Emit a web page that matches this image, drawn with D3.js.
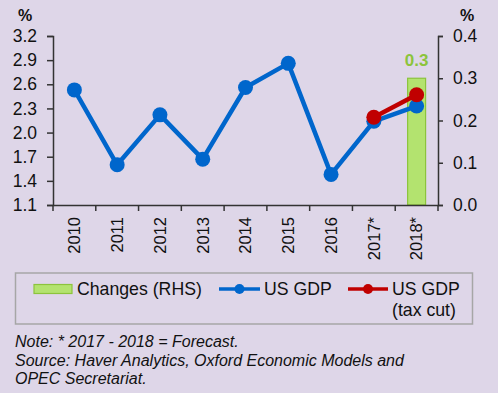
<!DOCTYPE html>
<html>
<head>
<meta charset="utf-8">
<script src="https://cdn.jsdelivr.net/npm/d3@7"></script>
<style>
  body { margin: 0; background: #ded6e8; }
  svg { display: block; font-family: Arial, "Liberation Sans", sans-serif; }
</style>
</head>
<body>
<script>
const width = 498;
const height = 393;

// data
const years = ['2010', '2011', '2012', '2013', '2014', '2015', '2016', '2017*', '2018*'];
const usGdp = [2.53, 1.60, 2.22, 1.67, 2.56, 2.86, 1.48, 2.14, 2.33];
const taxCutYears = ['2017*', '2018*'];
const usGdpTaxCut = [2.19, 2.47];
const changeYears = ['2018*'];
const changes = [0.3];
const leftTicks = [1.1, 1.4, 1.7, 2.0, 2.3, 2.6, 2.9, 3.2];
const rightTicks = [0.0, 0.1, 0.2, 0.3, 0.4];
const notes = ['Note: * 2017 - 2018 = Forecast.', 'Source: Haver Analytics, Oxford Economic Models and', 'OPEC Secretariat.'];

const blue = '#0066cc';
const red = '#c00000';
const green = '#b3e36f';
const greenDark = '#8cc43c';
const axisColor = '#333';

const svg = d3.select('body').append('svg')
  .attr('width', width)
  .attr('height', height);

const x = d3.scaleBand().domain(years).range([53, 438]);
const yL = d3.scaleLinear().domain([1.1, 3.2]).range([205, 36]);
const yR = d3.scaleLinear().domain([0, 0.4]).range([205, 36]);

// bars (RHS)
const barData = changeYears.map((c, i) => ({ c, v: changes[i] }));
const barW = x.bandwidth() * 0.42;
svg.selectAll('rect.bar')
  .data(barData)
  .enter().append('rect')
  .attr('class', 'bar')
  .attr('x', d => x(d.c) + x.bandwidth() / 2 - barW / 2)
  .attr('y', d => yR(d.v))
  .attr('width', barW)
  .attr('height', d => yR(0) - yR(d.v))
  .attr('fill', green)
  .attr('stroke', greenDark)
  .attr('stroke-width', 1.2);

svg.selectAll('text.barlabel')
  .data(barData)
  .enter().append('text')
  .attr('class', 'barlabel')
  .attr('x', d => x(d.c) + x.bandwidth() / 2)
  .attr('y', d => yR(d.v) - 12)
  .attr('text-anchor', 'middle')
  .attr('font-size', 17)
  .attr('font-weight', 'bold')
  .attr('fill', greenDark)
  .text(d => d3.format('.1f')(d.v));

// axes
const leftAxis = svg.append('g')
  .attr('transform', 'translate(53,0)')
  .call(d3.axisLeft(yL).tickValues(leftTicks).tickFormat(d3.format('.1f')).tickSize(6).tickPadding(10));

const rightAxis = svg.append('g')
  .attr('transform', 'translate(438,0)')
  .call(d3.axisRight(yR).tickValues(rightTicks).tickFormat(d3.format('.1f')).tickSize(5).tickPadding(10));

const bottomAxis = svg.append('g')
  .attr('transform', 'translate(0,205)')
  .call(d3.axisBottom(x).tickSize(0).tickPadding(0));

// rotated year labels at band centres
bottomAxis.selectAll('.tick text')
  .attr('transform', 'rotate(-90)')
  .attr('text-anchor', 'end')
  .attr('x', -12)
  .attr('y', 0)
  .attr('dy', '0.35em');

// boundary tick marks on the category axis
svg.append('g')
  .selectAll('line')
  .data(years.map(d => x(d)).concat([x.range()[1]]))
  .enter().append('line')
  .attr('x1', d => d).attr('x2', d => d)
  .attr('y1', 205).attr('y2', 211)
  .attr('stroke', axisColor)
  .attr('stroke-width', 1.5);

[leftAxis, rightAxis, bottomAxis].forEach(g => {
  g.selectAll('path').attr('stroke', axisColor).attr('stroke-width', 1.5);
  g.selectAll('line').attr('stroke', axisColor).attr('stroke-width', 1.5);
  g.selectAll('text').attr('font-size', 17.5).attr('fill', '#111').attr('font-family', 'Arial, "Liberation Sans", sans-serif');
});
bottomAxis.selectAll('text').attr('font-size', 16.5);

svg.append('text').attr('x', 25).attr('y', 21).attr('text-anchor', 'middle')
  .attr('font-size', 16).attr('font-weight', 'bold').attr('fill', '#111').text('%');
svg.append('text').attr('x', 467).attr('y', 21).attr('text-anchor', 'middle')
  .attr('font-size', 16).attr('font-weight', 'bold').attr('fill', '#111').text('%');

// lines
const cx = d => x(d) + x.bandwidth() / 2;

const gdpPts = years.map((c, i) => ({ c, v: usGdp[i] }));
const taxPts = taxCutYears.map((c, i) => ({ c, v: usGdpTaxCut[i] }));

const line = d3.line().x(d => cx(d.c)).y(d => yL(d.v));

svg.append('path').datum(gdpPts)
  .attr('d', line).attr('fill', 'none')
  .attr('stroke', blue).attr('stroke-width', 4.5).attr('stroke-linejoin', 'round');
svg.selectAll('circle.gdp').data(gdpPts).enter().append('circle')
  .attr('class', 'gdp')
  .attr('cx', d => cx(d.c)).attr('cy', d => yL(d.v)).attr('r', 7.5)
  .attr('fill', blue);

svg.append('path').datum(taxPts)
  .attr('d', line).attr('fill', 'none')
  .attr('stroke', red).attr('stroke-width', 4.5);
svg.selectAll('circle.tax').data(taxPts).enter().append('circle')
  .attr('class', 'tax')
  .attr('cx', d => cx(d.c)).attr('cy', d => yL(d.v)).attr('r', 7.5)
  .attr('fill', red);

// legend
const legend = svg.append('g');
legend.append('rect')
  .attr('x', 15.5).attr('y', 273).attr('width', 457).attr('height', 51)
  .attr('fill', 'none').attr('stroke', '#a6a6a6').attr('stroke-width', 1.5);

legend.append('rect')
  .attr('x', 34).attr('y', 284.5).attr('width', 38).attr('height', 9)
  .attr('fill', green).attr('stroke', greenDark).attr('stroke-width', 1.2);
legend.append('text').attr('x', 77).attr('y', 295).attr('font-size', 17.7).attr('fill', '#111').text('Changes (RHS)');

legend.append('line').attr('x1', 219).attr('x2', 260).attr('y1', 289).attr('y2', 289)
  .attr('stroke', blue).attr('stroke-width', 3.5);
legend.append('circle').attr('cx', 239.5).attr('cy', 289).attr('r', 5).attr('fill', blue);
legend.append('text').attr('x', 264).attr('y', 295).attr('font-size', 17.7).attr('fill', '#111').text('US GDP');

legend.append('line').attr('x1', 348).attr('x2', 388).attr('y1', 289).attr('y2', 289)
  .attr('stroke', red).attr('stroke-width', 3.5);
legend.append('circle').attr('cx', 368).attr('cy', 289).attr('r', 5).attr('fill', red);
legend.append('text').attr('x', 392).attr('y', 295).attr('font-size', 17.7).attr('fill', '#111').text('US GDP');
legend.append('text').attr('x', 392).attr('y', 316).attr('font-size', 17.7).attr('fill', '#111').text('(tax cut)');

// notes
svg.selectAll('text.note').data(notes).enter().append('text')
  .attr('class', 'note')
  .attr('x', 15).attr('y', (d, i) => 347 + i * 18.5)
  .attr('font-size', 16).attr('font-style', 'italic').attr('fill', '#111')
  .text(d => d);
</script>
</body>
</html>
